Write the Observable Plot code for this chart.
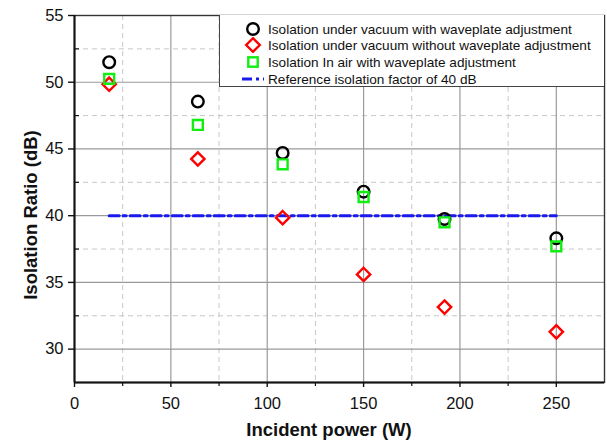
<!DOCTYPE html>
<html>
<head>
<meta charset="utf-8">
<script src="https://cdn.jsdelivr.net/npm/d3@7"></script>
<script src="https://cdn.jsdelivr.net/npm/@observablehq/plot@0.6"></script>
<style>
  html, body { margin: 0; padding: 0; background: #fff; }
  #wrap { position: relative; width: 607px; height: 444px; font-family: "Liberation Sans", Arial, sans-serif; }
  #wrap svg.plot { position: absolute; left: 0; top: 0; }
  .ttl { position: absolute; font-family: "Liberation Sans", Arial, sans-serif; font-weight: bold; font-size: 18.5px; color: #111; white-space: nowrap; }
  #legend { position: absolute; left: 219px; top: 15px; width: 385px; height: 72px; box-sizing: border-box;
            background: #fff; border: 1.3px solid #444; border-top: none; border-right: none; }
  .lrow { position: absolute; left: 0; height: 16px; display: flex; align-items: center; font-size: 13.6px; color: #111; white-space: nowrap; }
  .lrow svg { width: 48px; height: 16px; flex: none; }
</style>
</head>
<body>
<div id="wrap"></div>
<script>
const power = [18, 64, 108, 150, 192, 250];
const vacuumWith = [51.5, 48.55, 44.7, 41.8, 39.75, 38.3];
const vacuumWithout = [49.85, 44.25, 39.85, 35.6, 33.15, 31.3];
const airWith = [50.25, 46.8, 43.85, 41.4, 39.5, 37.7];
const refPower = [18, 250];
const refLevel = [40, 40];
const seriesNames = [
  "Isolation under vacuum with waveplate adjustment",
  "Isolation under vacuum without waveplate adjustment",
  "Isolation In air with waveplate adjustment",
  "Reference isolation factor of 40 dB"
];
const xTicks = [0, 50, 100, 150, 200, 250];
const xMinor = [25, 75, 125, 175, 225];
const yTicks = [30, 35, 40, 45, 50, 55];
const yMinor = [32.5, 37.5, 42.5, 47.5, 52.5];

const mk = (ys) => power.map((p, i) => ({x: p, y: ys[i]}));
const ref = refPower.map((p, i) => ({x: p, y: refLevel[i]}));

const chart = Plot.plot({
  width: 607,
  height: 444,
  marginLeft: 74,
  marginRight: 3,
  marginTop: 15,
  marginBottom: 62,
  style: {fontFamily: "Liberation Sans, Arial, sans-serif", fontSize: "16.5px", color: "#111", background: "transparent"},
  x: {domain: [0, 275]},
  y: {domain: [27.5, 55]},
  marks: [
    Plot.gridX(xMinor, {stroke: "#c8c8c8", strokeOpacity: 1, strokeDasharray: "5,4", strokeWidth: 1}),
    Plot.gridY(yMinor, {stroke: "#c8c8c8", strokeOpacity: 1, strokeDasharray: "5,4", strokeWidth: 1}),
    Plot.gridX(xTicks.slice(1), {stroke: "#9a9a9a", strokeOpacity: 1, strokeWidth: 1.2}),
    Plot.gridY(yTicks.slice(0, -1), {stroke: "#9a9a9a", strokeOpacity: 1, strokeWidth: 1.2}),
    Plot.frame({stroke: "#333", strokeWidth: 1.4}),
    Plot.axisX(xTicks, {tickSize: 5, tickPadding: 10, label: null, stroke: "#111", strokeWidth: 1.4}),
    Plot.axisX(xMinor, {tickSize: 4, label: null, text: null, stroke: "#111", strokeWidth: 1.2}),
    Plot.axisY(yTicks, {tickSize: 6, tickPadding: 5, label: null, stroke: "#111", strokeWidth: 1.4}),
    Plot.axisY(yMinor, {tickSize: -5, label: null, text: null, stroke: "#111", strokeWidth: 1.2}),
    Plot.ruleX([0], {stroke: "#111", strokeWidth: 2}),
    Plot.ruleY([27.5], {stroke: "#111", strokeWidth: 2}),
    Plot.line(ref, {x: "x", y: "y", stroke: "#1a1aee", strokeWidth: 3, strokeDasharray: "10,4,3,4"}),
    Plot.dot(mk(vacuumWith), {x: "x", y: "y", symbol: "circle", r: 5.8, stroke: "#000", strokeWidth: 2.4, fill: "none"}),
    Plot.dot(mk(vacuumWithout), {x: "x", y: "y", symbol: "diamond2", r: 6, stroke: "#f00", strokeWidth: 2.4, fill: "none"}),
    Plot.dot(mk(airWith), {x: "x", y: "y", symbol: "square2", r: 6.3, stroke: "#11ee11", strokeWidth: 2.4, fill: "none"})
  ]
});
chart.classList.add("plot");
const wrap = document.getElementById("wrap");
wrap.appendChild(chart);

// axis titles
const xt = document.createElement("div");
xt.className = "ttl";
xt.textContent = "Incident power (W)";
xt.style.left = "329px"; xt.style.top = "419px"; xt.style.transform = "translateX(-50%)";
wrap.appendChild(xt);
const yt = document.createElement("div");
yt.className = "ttl";
yt.textContent = "Isolation Ratio (dB)";
yt.style.left = "31px"; yt.style.top = "215px"; yt.style.transform = "translate(-50%,-50%) rotate(-90deg)";
wrap.appendChild(yt);

// legend
const legend = document.createElement("div");
legend.id = "legend";
const symbols = [
  '<circle cx="33" cy="8" r="5.8" fill="none" stroke="#000" stroke-width="2.4"/>',
  '<path d="M33,1.2 L39.8,8 L33,14.8 L26.2,8 Z" fill="none" stroke="#f00" stroke-width="2.4"/>',
  '<rect x="28.3" y="3.3" width="9.4" height="9.4" fill="none" stroke="#11ee11" stroke-width="2.4"/>',
  '<line x1="22" x2="44" y1="8" y2="8" stroke="#1a1aee" stroke-width="3" stroke-dasharray="10,4,3,4"/>'
];
const rowY = [6, 22, 39, 56];
seriesNames.forEach((name, i) => {
  const row = document.createElement("div");
  row.className = "lrow";
  row.style.top = rowY[i] + "px";
  row.innerHTML = '<svg viewBox="0 0 48 16">' + symbols[i] + '</svg><span>' + name + '</span>';
  legend.appendChild(row);
});
wrap.appendChild(legend);
</script>
</body>
</html>
